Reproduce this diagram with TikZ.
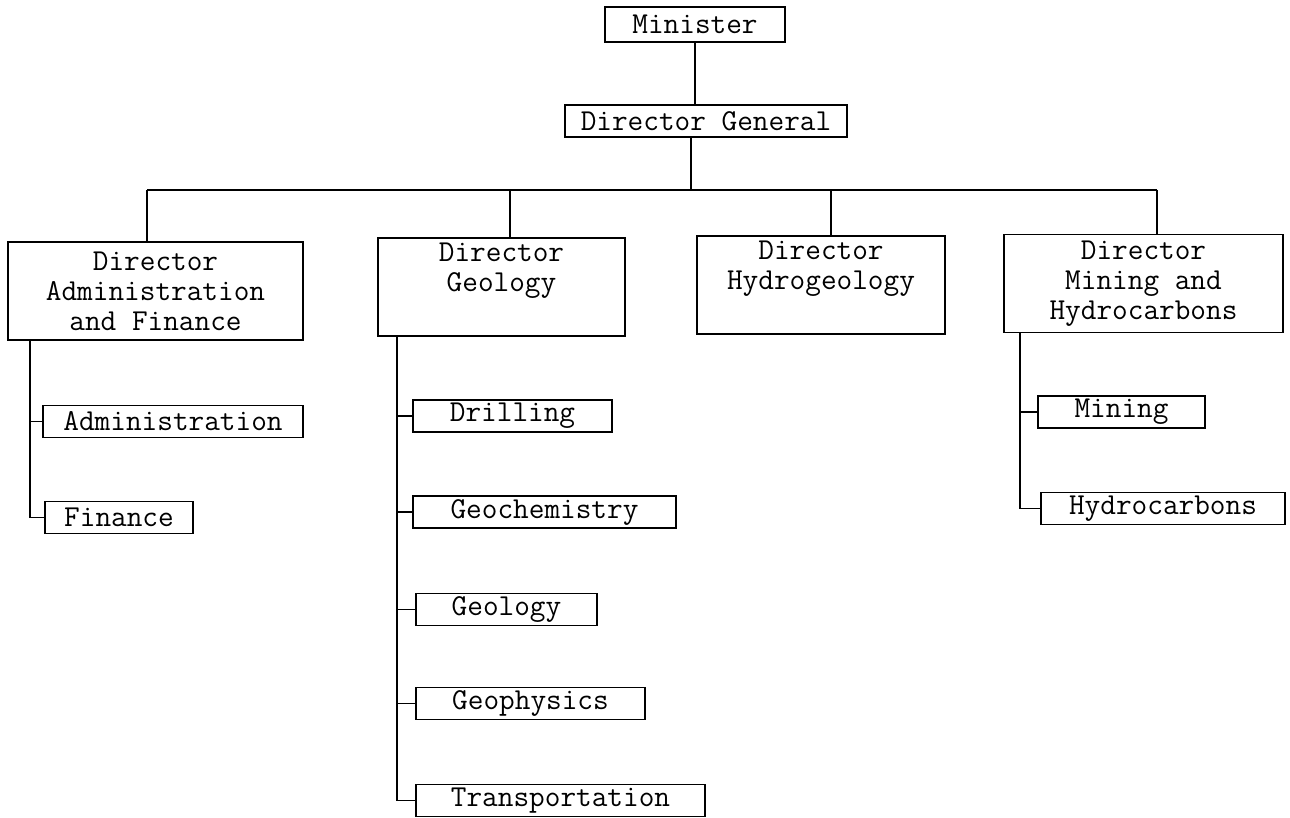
\documentclass[tikz,border=0pt]{standalone}
\begin{document}
\begin{tikzpicture}[x=0.5pt,y=-0.5pt,line width=0.9pt,
  every node/.style={font=\ttfamily\fontsize{15.2}{15}\selectfont},
  unit/.style={draw,inner sep=0pt,minimum height=16pt},
  dir/.style={draw,align=center,inner sep=0pt,minimum height=49pt}]
\useasboundingbox (0,0) rectangle (1290,818);
% top of the chart
\node[unit,minimum width=90pt,minimum height=17.5pt] (minister) at (695,24.5) {Minister};
\node[unit,minimum width=141pt] (dg) at (706,121) {Director General};
% directors
\node[dir,minimum width=147.5pt] (diradm) at (155.5,291) {Director\\Administration\\and Finance};
\node[dir,minimum width=123.5pt] (dirgeo) at (501.5,287) {Director\\Geology\\\strut};
\node[dir,minimum width=124pt] (dirhyd) at (821,285) {Director\\Hydrogeology\\\strut};
\node[dir,minimum width=139.5pt] (dirmin) at (1143.5,283.5) {Director\\Mining and\\Hydrocarbons};
% units
\node[unit,minimum width=130pt] (admin) at (173,421.5) {Administration};
\node[unit,minimum width=74pt] (finance) at (119,517.5) {Finance};
\node[unit,minimum width=99.5pt] (drilling) at (512.5,416) {Drilling};
\node[unit,minimum width=131.5pt] (geochem) at (544.5,512) {Geochemistry};
\node[unit,minimum width=90.5pt] (geology) at (506.5,609.5) {Geology};
\node[unit,minimum width=114.5pt] (geophys) at (530.5,703.5) {Geophysics};
\node[unit,minimum width=144.5pt] (transport) at (560.5,800.5) {Transportation};
\node[unit,minimum width=83.5pt] (mining) at (1121.5,412) {Mining};
\node[unit,minimum width=122pt] (hydrocarb) at (1163,508.5) {Hydrocarbons};
% connectors
\coordinate (bus) at (691,190);
\coordinate (b1) at (147,190);
\coordinate (b2) at (510,190);
\coordinate (b3) at (831,190);
\coordinate (b4) at (1157,190);
\draw (minister) -- (minister |- dg.north);
\draw (dg.south -| bus) -- (bus);
\draw (b1) -- (b4);
\foreach \b/\d in {b1/diradm,b2/dirgeo,b3/dirhyd,b4/dirmin}
  \draw (\b) -- (\b |- \d.north);
\coordinate (sadm) at (30,0);
\coordinate (sgeo) at (397,0);
\coordinate (smin) at (1020,0);
\draw (sadm |- diradm.south) |- (finance.west);
\draw (sadm |- admin) -- (admin.west);
\draw (sgeo |- dirgeo.south) |- (transport.west);
\foreach \n in {drilling,geochem,geology,geophys}
  \draw (sgeo |- \n) -- (\n.west);
\draw (smin |- dirmin.south) |- (hydrocarb.west);
\draw (smin |- mining) -- (mining.west);
\end{tikzpicture}
\end{document}
